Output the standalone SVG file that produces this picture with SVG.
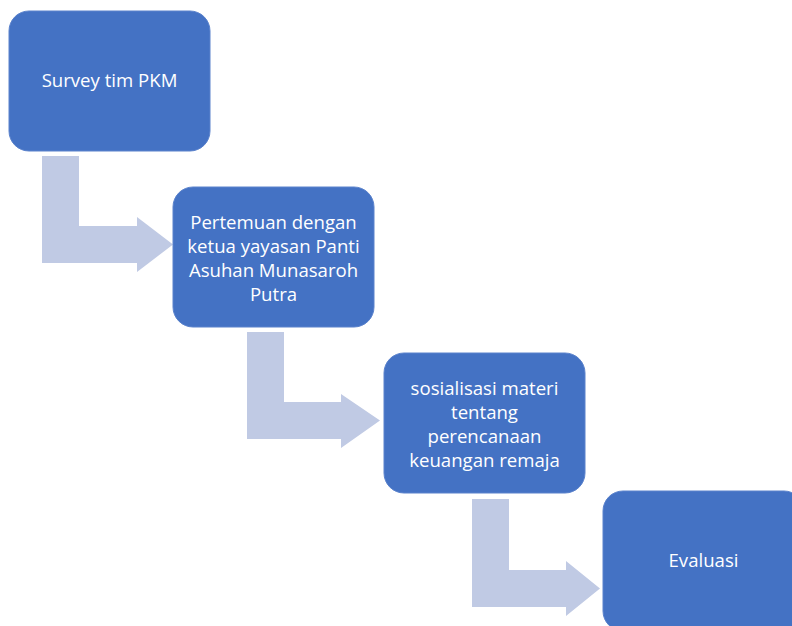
<svg xmlns="http://www.w3.org/2000/svg" width="792" height="626" viewBox="0 0 792 626">
<style>
.box{fill:#4472C4;stroke:#5a82cc;stroke-width:1}
.arr{fill:#C0CAE4}
.t{font-family:"Open Sans","Noto Sans",sans-serif;font-size:18.6px;fill:#ffffff;text-anchor:middle}
</style>
<rect width="792" height="626" fill="#ffffff"/>
<g id="connectors">
<path class="arr" d="M42,156 H79 V226 H137 V217 L173,244.5 L137,272 V263 H42 Z"/>
<path class="arr" d="M247,332 H284 V402 H341 V394 L380,420.5 L341,448 V439 H247 Z"/>
<path class="arr" d="M472,499 H509 V570 H566 V561 L600,588.5 L566,616 V607 H472 Z"/>
</g>
<g id="node1">
<rect class="box" x="9" y="11" width="201" height="140" rx="20"/>
<text class="t" x="109.5" y="87">Survey tim PKM</text>
</g>
<g id="node2">
<rect class="box" x="173" y="187" width="201" height="140" rx="20"/>
<text class="t" x="273.5" y="229">Pertemuan dengan</text>
<text class="t" x="273.5" y="253">ketua yayasan Panti</text>
<text class="t" x="273.5" y="277">Asuhan Munasaroh</text>
<text class="t" x="273.5" y="301">Putra</text>
</g>
<g id="node3">
<rect class="box" x="384" y="353" width="201" height="140" rx="20"/>
<text class="t" x="484.5" y="395">sosialisasi materi</text>
<text class="t" x="484.5" y="419">tentang</text>
<text class="t" x="484.5" y="443">perencanaan</text>
<text class="t" x="484.5" y="467">keuangan remaja</text>
</g>
<g id="node4">
<rect class="box" x="603" y="491" width="201" height="140" rx="20"/>
<text class="t" x="703.5" y="567">Evaluasi</text>
</g>
</svg>
